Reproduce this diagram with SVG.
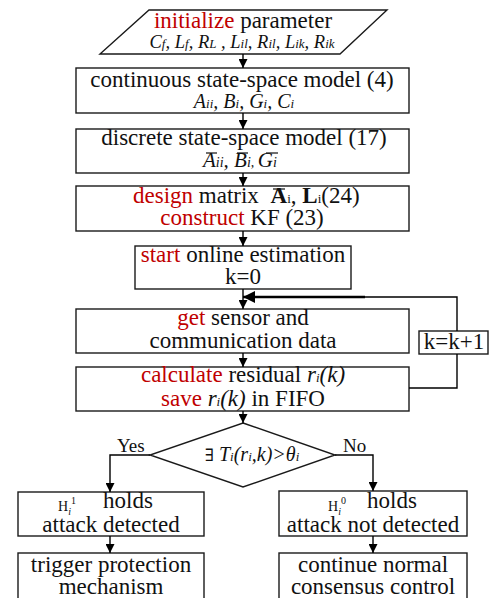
<svg xmlns="http://www.w3.org/2000/svg" width="496" height="598" viewBox="0 0 496 598">
<style>
.box{fill:#fff;stroke:#1a1a1a;stroke-width:1.4}
.t{font-family:"Liberation Serif",serif;font-size:23px;fill:#111;text-anchor:middle}
.ts{font-family:"Liberation Serif",serif;font-size:23px;fill:#111}
.m{font-family:"Times New Roman","Liberation Serif",serif;font-size:20px;font-style:italic;fill:#111;text-anchor:middle}
.r{fill:#c00000}
.i{font-family:"Times New Roman","Liberation Serif",serif;font-style:italic}
.s{font-size:13px}
.lbl{font-family:"Liberation Serif",serif;font-size:19px;fill:#111}
.c{fill:none;stroke:#000;stroke-width:1.4}
.ob{stroke:#111;stroke-width:1.2}
</style>
<defs>
<marker id="ah" viewBox="0 0 10 10" refX="10" refY="5" markerWidth="9" markerHeight="9" markerUnits="userSpaceOnUse" orient="auto">
<path d="M0,0 L10,5 L0,10 Z" fill="#000"/>
</marker>
<marker id="ahb" viewBox="0 0 10 10" refX="10" refY="5" markerWidth="16" markerHeight="12" markerUnits="userSpaceOnUse" orient="auto">
<path d="M0,0 L10,5 L0,10 Z" fill="#000"/>
</marker>
</defs>
<g id="n1">
<polygon class="box" points="149,10 387,10 340,54 100,54"/>
<text class="t" x="243" y="28"><tspan class="r">initialize</tspan> parameter</text>
<text class="m" x="242" y="48" style="font-size:18.5px">C<tspan class="s">f</tspan>, L<tspan class="s">f</tspan>, R<tspan class="s">L</tspan> , L<tspan class="s">il</tspan>, R<tspan class="s">il</tspan>, L<tspan class="s">ik</tspan>, R<tspan class="s">ik</tspan></text>
</g>
<g id="n2">
<rect class="box" x="76" y="68" width="333" height="45"/>
<text class="t" x="242" y="87">continuous state-space model (4)</text>
<text class="m" x="244" y="108">A<tspan class="s">ii</tspan>, B<tspan class="s">i</tspan>, G<tspan class="s">i</tspan>, C<tspan class="s">i</tspan></text>
</g>
<g id="n3">
<rect class="box" x="76" y="129" width="333" height="44"/>
<text class="t" x="244" y="145">discrete state-space model (17)</text>
<text class="m" x="203" y="167" style="font-size:21px;text-anchor:start">A<tspan style="font-size:14px">ii</tspan>, B<tspan style="font-size:14px">i, </tspan> G<tspan style="font-size:14px">i</tspan></text>
<line class="ob" x1="206" y1="153" x2="217" y2="153"/>
<line class="ob" x1="237" y1="153" x2="248" y2="153"/>
<line class="ob" x1="266" y1="153" x2="278" y2="153"/>
</g>
<g id="n4">
<rect class="box" x="76" y="186" width="333" height="45"/>
<text class="ts" x="133" y="203"><tspan class="r">design</tspan> matrix <tspan font-weight="bold" dx="6">A</tspan><tspan class="s">i</tspan>, <tspan font-weight="bold">L</tspan><tspan class="s">i</tspan>(24)</text>
<line class="ob" x1="273" y1="189" x2="285" y2="189"/>
<text class="t" x="242" y="225"><tspan class="r">construct</tspan> KF (23)</text>
</g>
<g id="n5">
<rect class="box" x="135" y="246" width="216" height="43"/>
<text class="t" x="243" y="262"><tspan class="r">start</tspan> online estimation</text>
<text class="t" x="243" y="284">k=0</text>
</g>
<g id="n6">
<rect class="box" x="76" y="309" width="333" height="44"/>
<text class="t" x="243" y="325"><tspan class="r">get</tspan> sensor and</text>
<text class="t" x="243" y="348">communication data</text>
</g>
<g id="n7">
<rect class="box" x="76" y="367" width="333" height="44"/>
<text class="t" x="243" y="382"><tspan class="r">calculate</tspan> residual <tspan class="i">r<tspan class="s">i</tspan>(k)</tspan></text>
<text class="t" x="243" y="406"><tspan class="r">save</tspan> <tspan class="i">r<tspan class="s">i</tspan>(k)</tspan> in FIFO</text>
</g>
<g id="n8">
<rect class="box" x="419" y="331" width="69" height="23"/>
<text class="t" x="454" y="349">k=k+1</text>
</g>
<g id="n9">
<polygon class="box" points="243,423 335,455 243,487 150,455"/>
<text class="m" x="252" y="461"><tspan style="font-family:'DejaVu Serif',serif;font-style:normal;font-size:17px">∃</tspan> T<tspan class="s">i</tspan>(r<tspan class="s">i</tspan>,k)&gt;θ<tspan class="s">i</tspan></text>
</g>
<g id="n10">
<rect class="box" x="18" y="492" width="186" height="44"/>
<text class="ts" x="58" y="511"><tspan style="font-size:14px">H</tspan><tspan class="i" style="font-size:10px" dy="4">i</tspan><tspan style="font-size:10px" dx="0" dy="-11">1</tspan><tspan x="103" dy="4">holds</tspan></text>
<text class="t" x="111" y="532">attack detected</text>
</g>
<g id="n11">
<rect class="box" x="279" y="491" width="188" height="45"/>
<text class="ts" x="328" y="511"><tspan style="font-size:14px">H</tspan><tspan class="i" style="font-size:10px" dy="4">i</tspan><tspan style="font-size:10px" dx="0" dy="-11">0</tspan><tspan x="367" dy="4">holds</tspan></text>
<text class="t" x="373" y="532">attack not detected</text>
</g>
<g id="n12">
<rect class="box" x="18" y="553" width="186" height="50"/>
<text class="t" x="111" y="572">trigger protection</text>
<text class="t" x="111" y="594">mechanism</text>
</g>
<g id="n13">
<rect class="box" x="279" y="553" width="188" height="50"/>
<text class="t" x="373" y="572">continue normal</text>
<text class="t" x="373" y="594">consensus control</text>
</g>
<g id="connectors">
<line class="c" x1="243" y1="54" x2="243" y2="68" marker-end="url(#ah)"/>
<line class="c" x1="243" y1="113" x2="243" y2="129" marker-end="url(#ah)"/>
<line class="c" x1="243" y1="173" x2="243" y2="186" marker-end="url(#ah)"/>
<line class="c" x1="243" y1="231" x2="243" y2="246" marker-end="url(#ah)"/>
<line class="c" x1="243" y1="289" x2="243" y2="309" marker-end="url(#ah)"/>
<line class="c" x1="243" y1="353" x2="243" y2="367" marker-end="url(#ah)"/>
<line class="c" x1="243" y1="411" x2="243" y2="423" marker-end="url(#ah)"/>
<polyline class="c" points="150,455 110,455 110,492" marker-end="url(#ah)"/>
<polyline class="c" points="335,455 373,455 373,491" marker-end="url(#ah)"/>
<line class="c" x1="110" y1="536" x2="110" y2="553" marker-end="url(#ah)"/>
<line class="c" x1="373" y1="536" x2="373" y2="553" marker-end="url(#ah)"/>
<polyline class="c" points="409,388 457,388 457,354"/>
<polyline class="c" points="457,331 457,297 365,297"/>
<line x1="365" y1="297" x2="243" y2="297" stroke="#000" stroke-width="2.6" marker-end="url(#ahb)"/>
<text class="lbl" x="117" y="452">Yes</text>
<text class="lbl" x="343" y="452">No</text>
</g>
</svg>
